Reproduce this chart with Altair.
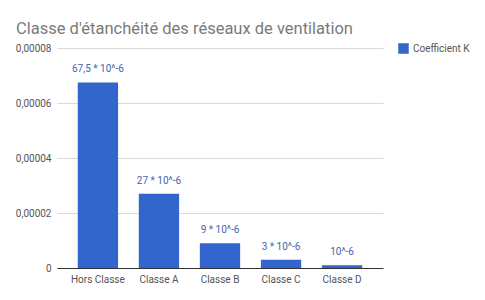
import altair as alt
import pandas as pd

categories = ["Hors Classe", "Classe A", "Classe B", "Classe C", "Classe D"]
values = [67.5e-6, 27e-6, 9e-6, 3e-6, 1e-6]
labels = ["67,5 * 10^-6", "27 * 10^-6", "9 * 10^-6", "3 * 10^-6", "10^-6"]
series = "Coefficient K"
y_ticks = [0, 0.00002, 0.00004, 0.00006, 0.00008]

df = pd.DataFrame({"cat": categories, "val": values, "lab": labels, "series": [series] * len(categories)})

FONT = "Roboto"
BLUE = "#3366CC"

x = alt.X("cat:N", sort=categories, title=None,
          scale=alt.Scale(paddingInner=0.34, paddingOuter=0.34),
          axis=alt.Axis(labelAngle=0, labelFont=FONT, labelFontSize=10, labelColor="#555555",
                        ticks=False, domainColor="#333333", domainWidth=1, labelPadding=6,
                        grid=False))
y = alt.Y("val:Q", title=None,
          scale=alt.Scale(domain=[0, 0.00008], nice=False),
          axis=alt.Axis(values=y_ticks, ticks=False, domain=False, labelFont=FONT, labelFontSize=10,
                        labelColor="#555555", labelPadding=6, gridColor="#D9D9D9",
                        labelExpr="datum.value == 0 ? '0' : replace(format(datum.value, '.5f'), '.', ',')"))

bars = alt.Chart(df).mark_bar(color=BLUE).encode(
    x=x, y=y,
    color=alt.Color("series:N", scale=alt.Scale(range=[BLUE]),
                    legend=alt.Legend(title=None, orient="none", legendX=341, legendY=-5,
                                      symbolType="square", symbolSize=110, symbolStrokeWidth=0,
                                      labelFont=FONT, labelFontSize=10, labelColor="#555555",
                                      symbolOpacity=1))
)
text = alt.Chart(df).mark_text(font=FONT, fontSize=10, color="#4466AA", dy=-10, baseline="alphabetic").encode(
    x=alt.X("cat:N", sort=categories), y="val:Q", text="lab:N"
)

chart = (bars + text).properties(
    width=326, height=220,
    autosize=alt.AutoSizeParams(type="none"),
    padding={"left": 57, "top": 48, "right": 102, "bottom": 32},
    title=alt.TitleParams("Classe d'étanchéité des réseaux de ventilation", anchor="start", frame="group",
                          font=FONT, fontSize=16.5, fontWeight="normal", color="#7A7A7A",
                          dx=-41, offset=6),
).configure_view(stroke=None)

chart.save("out.html", embed_options={"renderer": "svg", "actions": False})
